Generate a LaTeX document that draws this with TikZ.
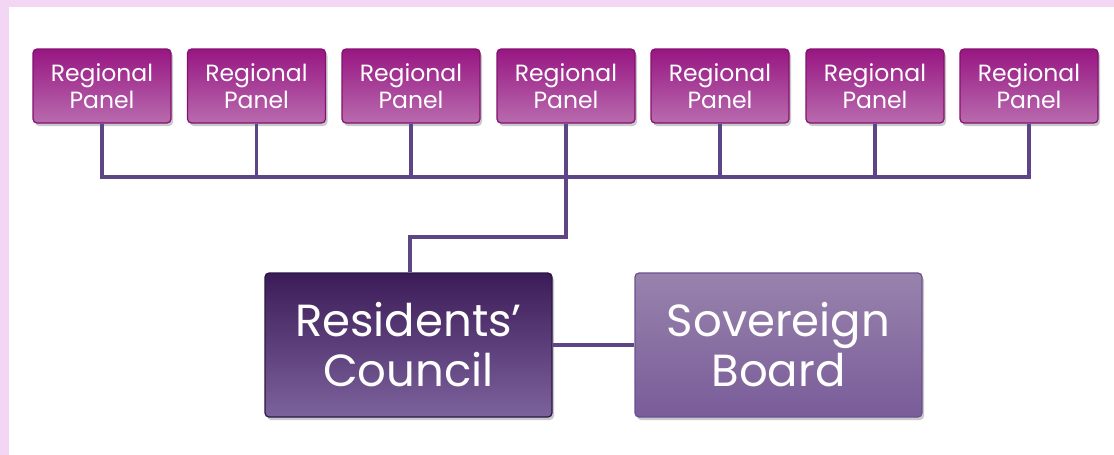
\documentclass[tikz,border=0pt]{standalone}
\usepackage{fontspec}
\setmainfont{Poppins}
\usetikzlibrary{shadows,calc}
\definecolor{bgpink}{HTML}{F3D6F3}
\definecolor{rptop}{HTML}{981682}
\definecolor{rpbot}{HTML}{B86BAE}
\definecolor{rpedge}{HTML}{85106F}
\definecolor{rctop}{HTML}{3C1C58}
\definecolor{rcbot}{HTML}{7C629C}
\definecolor{rcedge}{HTML}{2E1546}
\definecolor{sbtop}{HTML}{9883AC}
\definecolor{sbbot}{HTML}{795C99}
\definecolor{sbedge}{HTML}{6C5090}
\definecolor{linec}{HTML}{5E4585}
\tikzset{
  x=1pt, y=-1pt,
  boxbase/.style={rectangle, rounded corners=4pt, inner sep=0pt, align=center,
    text=white, line width=1.2pt,
    drop shadow={shadow xshift=2pt, shadow yshift=-3pt, opacity=0.35, fill=black!60}},
  rpanel/.style={boxbase, minimum width=138pt, minimum height=74pt,
    top color=rptop, bottom color=rpbot, draw=rpedge,
    font=\fontsize{23.5}{27}\selectfont},
  bigbox/.style={boxbase, minimum width=287pt, minimum height=144pt,
    font=\fontsize{45}{50}\selectfont},
  rcbox/.style={bigbox, top color=rctop, bottom color=rcbot, draw=rcedge},
  sbbox/.style={bigbox, top color=sbtop, bottom color=sbbot, draw=sbedge},
  conn/.style={draw=linec, line width=3.2pt}
}
\begin{document}
\begin{tikzpicture}
\fill[bgpink] (0,0) rectangle (1114,455);
\fill[white] (9,7) rectangle (1114,455);
\useasboundingbox (0,0) rectangle (1114,455);
\foreach \i/\x in {1/102,2/256.5,3/411,4/566,5/720,6/875,7/1029}{
  \node[rpanel] (rp\i) at (\x,86) {Regional\\Panel};
}
\coordinate (hl) at (102,177);
\coordinate (hr) at (1029,177);
\coordinate (mid) at (566,177);
\coordinate (jog) at (566,237);
\node[rcbox] (rc) at (408.5,345) {Residents’\\Council};
\node[sbbox] (sb) at (778.5,345) {Sovereign\\Board};
\foreach \i in {1,...,7}{
  \draw[conn] (rp\i.south) -- (rp\i.south |- hl);
}
\draw[conn, line cap=rect] (hl) -- (hr);
\draw[conn] (mid) -- (jog) -| (rc.north -| 410,0);
\draw[conn] (rc.east) -- (sb.west);
\end{tikzpicture}
\end{document}
